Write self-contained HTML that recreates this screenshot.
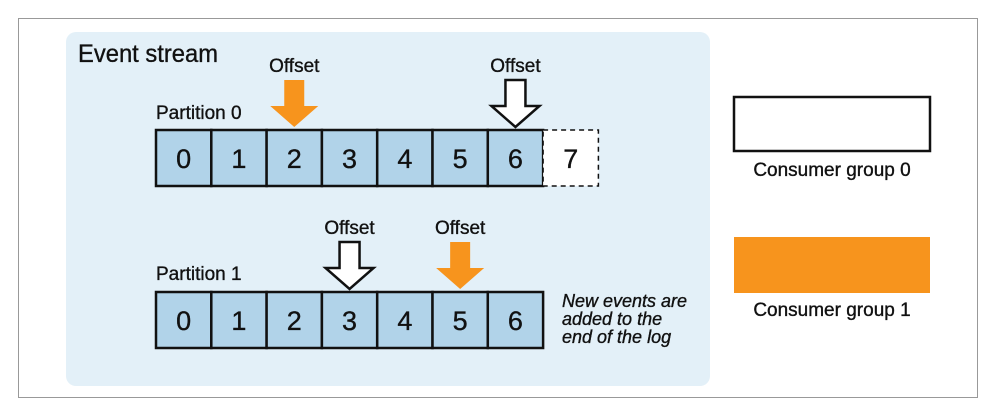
<!DOCTYPE html>
<html><head><meta charset="utf-8"><style>
body{margin:0;background:#fff}
svg{display:block;font-family:"Liberation Sans Narrow","Liberation Sans",sans-serif}
text{stroke:#111;stroke-width:0.35}
</style></head><body>
<svg id="d" width="996" height="415" viewBox="0 0 996 415">
<rect x="18.5" y="18.5" width="959" height="379" fill="#fff" stroke="#999" stroke-width="1"/>
<rect x="66" y="32" width="644" height="354" rx="10" fill="#e3f0f8"/>
<text x="78" y="62" font-size="25" fill="#111" textLength="140" lengthAdjust="spacingAndGlyphs">Event stream</text>
<text x="156" y="119" font-size="19" fill="#111">Partition 0</text>
<text x="156" y="280" font-size="19" fill="#111">Partition 1</text>
<g id="g"></g>
<text x="562" y="307" font-size="18" font-style="italic" fill="#111">New events are</text>
<text x="562" y="325" font-size="18" font-style="italic" fill="#111">added to the</text>
<text x="562" y="343" font-size="18" font-style="italic" fill="#111">end of the log</text>
<rect x="734" y="97" width="196" height="54" fill="#fff" stroke="#111" stroke-width="2.5"/>
<text x="832" y="176" font-size="19" text-anchor="middle" fill="#111">Consumer group 0</text>
<rect x="734" y="237" width="196" height="56" fill="#f7941d"/>
<text x="832" y="316" font-size="19" text-anchor="middle" fill="#111">Consumer group 1</text>
</svg>
<script>
const rowTops=[130,292];
const rowCounts=[7,7];
const pendingCells=[1,0];
const offsetsGroup0=[6,3];
const offsetsGroup1=[2,5];
const NS="http://www.w3.org/2000/svg";
const g=document.getElementById('g');
const x0=156,cw=55.3,ch=56;
function mk(t,a){const e=document.createElementNS(NS,t);for(const k in a)e.setAttribute(k,a[k]);g.appendChild(e);return e;}
function arrow(cx,top,fill,r){
  const p=mk('path',{d:`M${cx-10} ${top} h20 v26 h14 L${cx} ${top+47} L${cx-24} ${top+26} h14 Z`,fill:fill,stroke:fill==='#fff'?'#111':'none','stroke-width':2.5});
  
  
  const t=mk('text',{x:cx,y:top-8,'font-size':19,'text-anchor':'middle',fill:'#111'});
  t.textContent='Offset';
  
  
}
rowTops.forEach((y,r)=>{
  for(let i=0;i<rowCounts[r]+pendingCells[r];i++){
    const pend=i>=rowCounts[r];
    const c=mk('rect',{x:x0+i*cw,y:y,width:cw,height:ch,fill:pend?'#fff':'#b1d3e9',stroke:'#111','stroke-width':pend?1.5:2.5,'stroke-dasharray':pend?'5,4':'none'});
    
    
    const t=mk('text',{x:x0+i*cw+cw/2,y:y+38,'font-size':27,'text-anchor':'middle',fill:'#111'});
    t.textContent=i;
    
    
  }
  arrow(x0+offsetsGroup0[r]*cw+cw/2,y-50,'#fff',r);
  arrow(x0+offsetsGroup1[r]*cw+cw/2,y-50,'#f7941d',r);
});
</script>
</body></html>
